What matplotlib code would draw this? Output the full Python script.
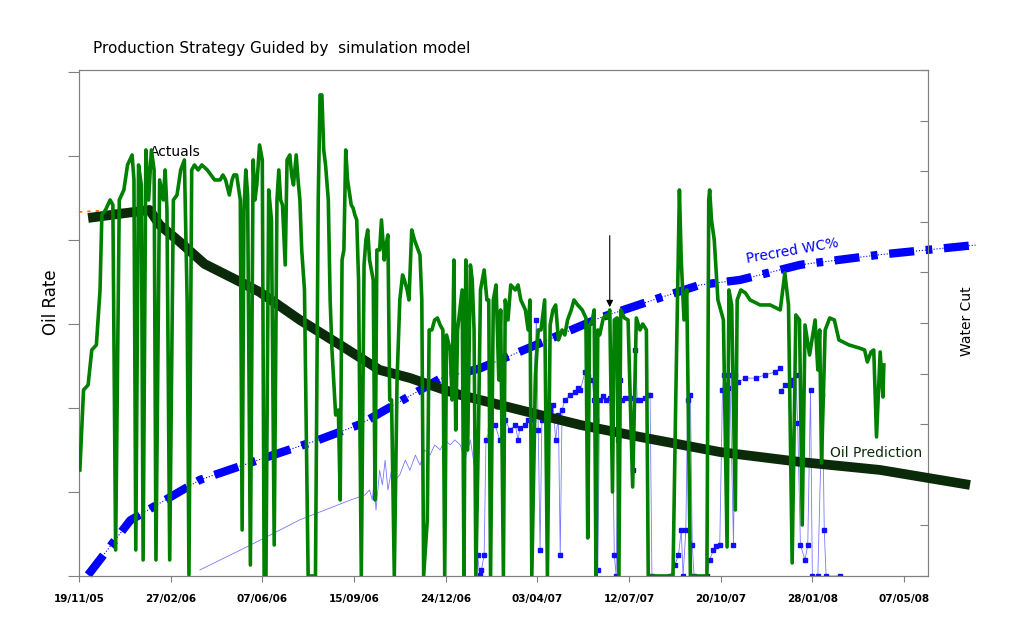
import matplotlib
matplotlib.use("Agg")
import matplotlib.pyplot as plt
import numpy as np
import datetime as dt

start = dt.date(2005, 11, 19)

# Actual oil rate (days since start, rate)
act_days = [1,5,10,14,19,23,25,29,34,37,40,44,49,53,58,60,62,65,68,70,73,76,79,82,84,88,92,94,96,99,103,107,111,115,118,120,123,126,130,134,140,144,148,154,157,160,164,167,169,172,176,178,180,182,184,187,190,192,194,197,200,202,204,207,210,213,216,218,220,222,225,227,230,232,234,237,239,241,243,246,250,258,261,263,265,267,269,272,274,276,280,283,285,287,289,291,293,297,299,301,303,305,308,311,313,315,317,321,323,325,328,330,333,335,337,339,341,344,347,350,353,355,358,360,363,366,370,372,374,376,380,382,385,388,391,394,397,399,401,405,407,409,411,413,418,420,422,424,427,429,431,433,436,438,442,445,447,449,452,455,458,460,463,465,468,471,476,479,482,487,490,492,494,498,501,504,508,511,514,517,520,523,527,530,533,537,540,544,549,553,555,557,560,562,564,566,568,572,575,577,579,582,584,587,589,591,595,599,604,608,612,615,619,621,648,651,655,657,660,663,667,685,687,688,690,693,697,700,703,707,709,712,716,718,722,727,732,743,754,765,770,774,778,782,786,789,792,797,803,806,808,810,814,819,824,829,840,851,857,860,864,867,870,874,877,878]
act_rate = [1060,1860,1910,2260,2310,2860,3610,3660,3760,3710,260,3760,3860,4110,4210,3960,260,4110,3910,160,4260,3760,4260,4060,160,3960,3760,4060,3660,160,3760,3810,4060,4160,2760,10,4060,4110,4060,4110,4060,4010,3960,3960,4010,3960,3810,3960,4010,4010,3760,460,3660,4060,3810,110,4160,3760,3910,4310,4160,0,0,3860,3560,310,3760,4060,3760,3710,3110,4160,4210,4010,3910,4210,3960,3760,3260,2860,0,0,3760,4810,4810,4260,4110,3760,2760,2260,1610,1660,760,3160,3260,4260,3960,3710,3680,3610,3560,2960,0,3110,3360,3460,3160,2960,760,3260,3260,3560,3160,3310,3410,1760,1760,0,1960,2760,3010,2960,2860,2760,3460,3360,3260,3210,2760,0,560,2460,2460,2560,2580,2510,2460,0,2410,2260,1760,3160,1460,2460,2860,0,3160,1260,3110,2960,2460,0,1560,2860,3060,2760,2760,0,2760,2910,1960,2660,0,2760,2560,2910,2860,2910,2760,2660,2460,2760,0,2010,2460,2460,2760,0,2510,2660,2710,2360,2460,2410,2560,2660,2760,2710,2660,2580,380,2510,2560,2660,0,2460,2410,2580,2610,2580,2660,840,2560,2580,0,2660,2580,2560,890,2580,2460,2520,2460,0,0,1760,3860,3160,2560,2860,0,0,3760,3860,3560,3360,2760,2660,2560,290,2860,2710,660,2760,2860,2830,2760,2710,2710,2660,3030,2710,130,2610,2560,510,2510,2210,2560,2060,2460,1130,2460,2580,2560,2360,2310,2280,2260,2140,2240,2260,1390,2240,1790,2110]

# Oil prediction
pred_days = [10,77,88,110,137,176,197,241,285,328,361,399,416,481,547,612,699,787,874,972]
pred_rate = [3580,3660,3510,3340,3120,2940,2840,2560,2310,2060,1980,1860,1810,1660,1510,1390,1240,1140,1060,910]

# Orange history-match line
hm_days = [0,77,88,137,176,179,180,241,328,399,459]
hm_rate = [3640,3680,3540,3140,2960,3180,2980,2580,2040,1840,1660]

# Measured water cut (%)
wc_days = [132,187,241,296,312,317,320,322,324,326,328,331,334,337,341,345,350,356,361,367,372,377,383,388,394,399,405,410,416,421,427,432,435,437,439,442,444,448,454,459,465,470,476,479,481,487,490,495,499,501,503,505,508,514,517,520,523,525,527,530,536,541,544,547,552,555,560,562,564,566,568,572,575,579,582,584,586,588,590,592,596,601,604,607,609,612,617,621,623,625,645,650,654,657,659,662,664,667,669,671,685,688,692,695,699,702,704,706,708,710,714,716,719,727,738,748,759,765,765.5,766,770,776,778,782,784,787,792,795,798,800,806,811,813,815,830]
wc_vals = [1.2,6.1,11.1,15.0,16.0,17.0,15.0,19.0,13.0,17.0,20.9,18.0,22.9,17.0,20.9,19.0,20.0,22.9,20.9,23.9,21.9,24.9,23.9,25.9,24.9,26.9,25.9,26.9,25.9,22.9,26.9,20.9,4.1,0.2,1.2,4.1,26.9,28.9,29.8,26.9,30.8,28.9,29.8,26.9,29.2,29.8,30.8,30.8,50.6,28.9,5.1,30.8,31.8,32.8,33.8,26.9,31.8,4.1,32.8,34.8,35.8,36.4,37.1,36.8,40.3,39.5,38.7,34.8,30.8,1.2,34.8,35.6,34.8,35.2,28.9,4.1,0,26.9,38.7,34.8,35.2,35.2,20.9,44.7,34.8,34.8,35.2,35.8,35.8,0,0,2.2,4.1,9.1,0,9.1,34.8,35.8,6.1,0,0,3.2,5.1,5.9,6.1,36.8,39.7,37.7,37.1,39.7,6.1,39.7,38.3,39.1,39.1,39.7,40.3,41.1,np.nan,36.6,37.7,37.7,38.7,39.7,30.2,6.1,3.2,6.1,36.8,0,0,35.8,9.1,0,0]

# Predicted water cut (%)
pwc_days = [10,56,132,197,263,307,394,437,503,568,634,677,721,787,874,978]
pwc_vals = [0.2,11,19,23,27,30,39,41,46,51,55,57.5,58.5,61.5,63.5,65.4]

tick_days = [0,100,200,300,400,500,600,700,800,900]

fig = plt.figure(figsize=(10.24, 6.29), dpi=100)
ax = fig.add_axes([0.0771, 0.0843, 0.829, 0.8045])
ax2 = ax.twinx()
ax.set_zorder(ax2.get_zorder() + 1)
ax.patch.set_visible(False)

ax.set_xlim(0, 926)
ax.set_ylim(0, 5060)
ax2.set_ylim(0, 100)

wcd = np.array(wc_days, dtype=float); wcv = np.array(wc_vals)
ax2.plot(wcd, wcv, color='#7878ff', lw=0.6, zorder=2)
m = wcd >= 434
ax2.plot(wcd[m], wcv[m], 's', color='#1010ff', ms=2.8, lw=0, zorder=3)
ax2.plot(pwc_days, pwc_vals, color='#0000ff', lw=0.8, ls=':', zorder=2, clip_on=False)
ax2.plot(pwc_days, pwc_vals, color='#0000ff', lw=6, dashes=(3, 1.4, 0.8, 1.4), zorder=2, clip_on=False,
         dash_capstyle='butt')
ax2.set_yticks(np.arange(0, 101, 10))
ax2.tick_params(axis='y', direction='in', length=6, colors='#808080', labelright=False)

ax.plot(hm_days, hm_rate, color='#ff6600', lw=1.2, ls=(0, (2, 3)), zorder=3)
ax.plot(pred_days, pred_rate, color='#0a2a0a', lw=7, zorder=4, clip_on=False, solid_capstyle='butt')
ax.plot(act_days, act_rate, color='#008000', lw=2.6, zorder=5)

ax.set_yticks(np.arange(0, 5041, 840))
ax.tick_params(axis='y', direction='out', length=8, colors='#808080', labelleft=False)
ax.set_xticks(tick_days)
ax.set_xticklabels([(start + dt.timedelta(days=d)).strftime('%d/%m/%y') for d in tick_days],
                   fontsize=7.5, fontweight='bold', color='black')
ax.tick_params(axis='x', direction='out', length=4, pad=9, colors='#808080', labelcolor='black')
for a in (ax, ax2):
    for s in a.spines.values():
        s.set_color('#808080')

ax.text(77, 4200, 'Actuals', fontsize=10)
ax.text(819, 1190, 'Oil Prediction', fontsize=10, color='#0a2a0a')
ax2.text(727, 61.8, 'Precred WC%', fontsize=10, color='#0000ff', rotation=10)
ax.annotate('', xy=(579, 2660), xytext=(579, 3430),
            arrowprops=dict(arrowstyle='-|>', color='black', lw=0.8, mutation_scale=10))

fig.text(0.091, 0.915, 'Production Strategy Guided by  simulation model', fontsize=11)
fig.text(0.05, 0.52, 'Oil Rate', fontsize=12, rotation=90, va='center', ha='center')
fig.text(0.944, 0.49, 'Water Cut', fontsize=10, rotation=90, va='center', ha='center')

fig.savefig('out.png', dpi=100)
